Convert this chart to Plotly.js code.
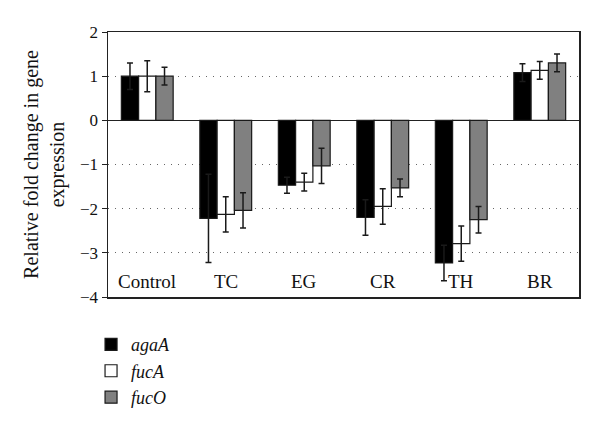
<!DOCTYPE html>
<html>
<head>
<meta charset="utf-8">
<script src="https://cdn.plot.ly/plotly-3.0.1.min.js"></script>
<style>html,body{margin:0;padding:0;background:#fff;}#chart{width:600px;height:422px;}</style>
</head>
<body>
<div id="chart"></div>
<script>
const categories = ["Control", "TC", "EG", "CR", "TH", "BR"];
const agaA = [1.0, -2.22, -1.47, -2.20, -3.23, 1.08];
const agaAErr = [0.30, 1.00, 0.18, 0.40, 0.40, 0.20];
const fucA = [1.0, -2.13, -1.40, -1.95, -2.79, 1.13];
const fucAErr = [0.35, 0.40, 0.20, 0.40, 0.40, 0.20];
const fucO = [1.0, -2.04, -1.03, -1.53, -2.25, 1.30];
const fucOErr = [0.20, 0.40, 0.40, 0.20, 0.30, 0.20];
const seriesNames = ["agaA", "fucA", "fucO"];
const yTicks = [2, 1, 0, -1, -2, -3, -4];
const yTickText = ["2", "1", "0", "\u22121", "\u22122", "\u22123", "\u22124"];

const serif = "Liberation Serif, DejaVu Serif, serif";
const colors = ["#000000", "#ffffff", "#808080"];
const vals = [agaA, fucA, fucO];
const errs = [agaAErr, fucAErr, fucOErr];

const traces = seriesNames.map((n, i) => ({
  type: "bar",
  name: n,
  x: categories,
  y: vals[i],
  marker: {color: colors[i], line: {color: "#1a1a1a", width: 1.2}},
  error_y: {type: "data", array: errs[i], visible: true, color: "#1a1a1a", thickness: 1.5, width: 3}
}));

const catAnnotations = categories.map(c => ({
  x: c, xref: "x", y: 0, yref: "paper", yanchor: "bottom", yshift: 3,
  text: c, showarrow: false,
  font: {family: serif, size: 19, color: "#111"}
}));

const layout = {
  width: 600, height: 422,
  margin: {l: 108, r: 21, t: 32, b: 125, autoexpand: false},
  paper_bgcolor: "#fff", plot_bgcolor: "#fff",
  barmode: "group", bargap: 0.34, bargroupgap: 0,
  showlegend: true,
  legend: {
    x: -0.036, xanchor: "left", y: -0.11, yanchor: "top",
    font: {family: serif, size: 18, color: "#111", style: "italic"},
    bgcolor: "rgba(0,0,0,0)", tracegroupgap: 0
  },
  annotations: catAnnotations,
  xaxis: {
    type: "category",
    showline: true, linecolor: "#222", linewidth: 1.5, mirror: true,
    showgrid: false, ticks: "", showticklabels: false
  },
  yaxis: {
    range: [-4, 2],
    tickvals: yTicks,
    ticktext: yTickText,
    showline: true, linecolor: "#222", linewidth: 1.5, mirror: true,
    ticks: "outside", ticklen: 5, tickcolor: "#222",
    showgrid: true, gridcolor: "#666", gridwidth: 1, griddash: "1px,6px",
    zeroline: true, zerolinecolor: "#222", zerolinewidth: 1.5,
    tickfont: {family: serif, size: 17, color: "#111"},
    title: {text: "Relative fold change in gene<br>expression", font: {family: serif, size: 20, color: "#111"}, standoff: 10}
  }
};

Plotly.newPlot("chart", traces, layout, {displayModeBar: false, staticPlot: true});
</script>
</body>
</html>
